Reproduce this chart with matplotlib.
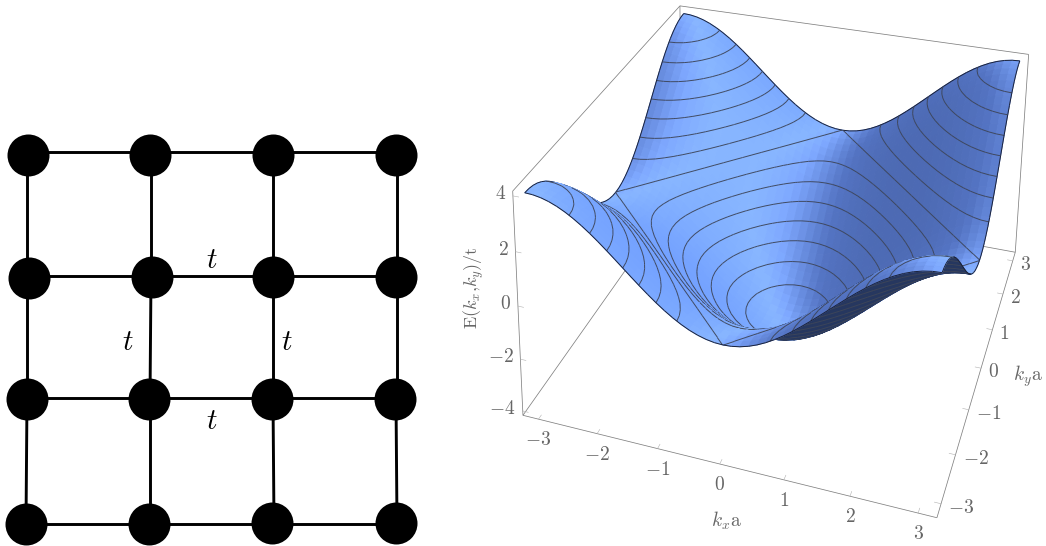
import numpy as np
import matplotlib
matplotlib.use("Agg")
import matplotlib.pyplot as plt
from mpl_toolkits.mplot3d.art3d import Poly3DCollection
from contourpy import contour_generator

plt.rcParams['mathtext.fontset'] = 'cm'
plt.rcParams['font.family'] = ['DejaVu Serif']

# ---------- data ----------
node_x = [[28, 150, 273, 396], [29, 152, 273, 396], [27, 149, 272, 395], [26, 149, 272, 396]]
node_y = [[155, 155, 155, 155], [278, 277, 277, 277], [399, 399, 399, 399], [524, 524, 523, 523]]
row_line_y = [152, 276, 398, 524]
col_line_top = [[27, 151, 273, 397], [27, 151, 273, 397], [27, 150, 273, 396]]
col_line_bot = [[27, 151, 273, 397], [27, 150, 273, 397], [26, 150, 274, 397]]
bond_labels = ['$t$', '$t$', '$t$', '$t$']
bond_label_x = [212, 128, 287, 212]
bond_label_y = [260, 342, 342, 421]

# band profile E(k)/t read along the box edges, one value per k knot
k_knots = [-3.142, -3.011, -2.880, -2.749, -2.618, -2.487, -2.356, -2.225, -2.094, -1.963,
           -1.833, -1.702, -1.571, -1.440, -1.309, -1.178, -1.047, -0.916, -0.785, -0.654,
           -0.524, -0.393, -0.262, -0.131, 0.0, 0.131, 0.262, 0.393, 0.524, 0.654, 0.785,
           0.916, 1.047, 1.178, 1.309, 1.440, 1.571, 1.702, 1.833, 1.963, 2.094, 2.225,
           2.356, 2.487, 2.618, 2.749, 2.880, 3.011, 3.142]
band_values = [2.000, 1.983, 1.932, 1.848, 1.732, 1.587, 1.414, 1.218, 1.000, 0.765, 0.518,
               0.261, 0.0, -0.261, -0.518, -0.765, -1.000, -1.218, -1.414, -1.587, -1.732,
               -1.848, -1.932, -1.983, -2.000, -1.983, -1.932, -1.848, -1.732, -1.587, -1.414,
               -1.218, -1.000, -0.765, -0.518, -0.261, 0.0, 0.261, 0.518, 0.765, 1.000, 1.218,
               1.414, 1.587, 1.732, 1.848, 1.932, 1.983, 2.000]
contour_levels = [-3.5, -3, -2.5, -2, -1.5, -1, -0.5, 0.001, 0.5, 1, 1.5, 2, 2.5, 3, 3.5]
k_ticks = [-3, -2, -1, 0, 1, 2, 3]
e_ticks = [-4, -2, 0, 2, 4]
x_label = r'$k_x\mathrm{a}$'
y_label = r'$k_y\mathrm{a}$'
z_label = r'$\mathrm{E}(k_x{,}k_y)/\mathrm{t}$'

# ---------- figure ----------
W, H = 1046, 546
fig = plt.figure(figsize=(W / 100, H / 100), dpi=100, facecolor='white')

lat = fig.add_axes([0, 0, 1, 1], zorder=3)
lat.set_xlim(0, W)
lat.set_ylim(H, 0)
lat.axis('off')
lat.patch.set_alpha(0)

nx_ = np.array(node_x, float)
ny_ = np.array(node_y, float)
for r in range(4):
    lat.plot([nx_[r, 0], nx_[r, 3]], [row_line_y[r]] * 2, color='k', lw=2.1, solid_capstyle='butt')
for r in range(3):
    for c in range(4):
        lat.plot([col_line_top[r][c], col_line_bot[r][c]], [ny_[r, c], ny_[r + 1, c]],
                 color='k', lw=2.1, solid_capstyle='butt')
lat.scatter(nx_.ravel(), ny_.ravel(), s=(42 * 0.72) ** 2, color='k', linewidths=0, zorder=4)
for s, x, y in zip(bond_labels, bond_label_x, bond_label_y):
    lat.text(x, y, s, fontsize=21, color='k', ha='center', va='center')

txtc = '#666666'
lat.text(726, 521, x_label, fontsize=14, color=txtc, ha='center', va='center')
lat.text(1028, 376, y_label, fontsize=14, color=txtc, ha='center', va='center')
lat.text(474, 288, z_label, fontsize=13, color=txtc, ha='center', va='center', rotation=90)

# ---------- 3D box calibration ----------
Ex, Ey, Ez = 3.27, 3.27, 4.17
corner3 = np.array([[-Ex, -Ey, -Ez], [Ex, -Ey, -Ez], [Ex, Ey, -Ez], [-Ex, Ey, -Ez],
                    [-Ex, -Ey, Ez], [Ex, Ey, Ez], [-Ex, Ey, Ez]])
corner_px = np.array([[525, 412.7], [936.7, 520], [1016.7, 248.3], [678.6, 195],
                      [510.7, 191.7], [1027.3, 56.7], [682.7, 3.3]])
corner_px[:, 1] = H - corner_px[:, 1]
A = []
for (X, Y, Z), (u, v) in zip(corner3, corner_px):
    A.append([X, Y, Z, 1, 0, 0, 0, 0, -u * X, -u * Y, -u * Z, -u])
    A.append([0, 0, 0, 0, X, Y, Z, 1, -v * X, -v * Y, -v * Z, -v])
P = np.linalg.svd(np.array(A))[2][-1].reshape(3, 4)
if (P[2] @ np.array([0, 0, 0, 1.0])) < 0:
    P = -P
P = P / P[2, 3]
M = np.vstack([P[0], P[1], [0, 0, 0, -1.0], P[2]])
camera = -np.linalg.solve(P[:, :3], P[:, 3])

ax = fig.add_axes([500 / W, 0, 546 / W, 1], projection='3d', computed_zorder=False, zorder=2)
ax.set_axis_off()
ax.patch.set_alpha(0)
ax.viewLim.intervalx = (500, W)
ax.viewLim.intervaly = (0, H)
ax.get_proj = lambda: M

def to_px(p):
    q = np.c_[p, np.ones(len(p))] @ P.T
    return q[:, :2] / q[:, 2:]

def segs3d(segs, color, lw, zorder):
    polys_ = [np.array(s, float) for s in segs]
    c = Poly3DCollection(polys_, facecolors=(0, 0, 0, 0), edgecolors=color, linewidths=lw, zorder=zorder)
    ax.add_collection3d(c, autolim=False)

# box edges
segs3d([((-Ex, -Ey, -Ez), (Ex, -Ey, -Ez)), ((Ex, -Ey, -Ez), (Ex, Ey, -Ez)),
        ((-Ex, -Ey, -Ez), (-Ex, Ey, -Ez)), ((-Ex, Ey, -Ez), (Ex, Ey, -Ez)),
        ((-Ex, -Ey, -Ez), (-Ex, -Ey, Ez)), ((Ex, Ey, -Ez), (Ex, Ey, Ez)),
        ((-Ex, Ey, Ez), (Ex, Ey, Ez)), ((-Ex, -Ey, Ez), (-Ex, Ey, Ez)),
        ((-Ex, Ey, -Ez), (-Ex, Ey, Ez))], '#808080', 0.55, 1)

# ticks and tick labels
def tick_label(p, s, ha, dx, dy):
    u, v = to_px(np.array([p], float))[0]
    lat.text(u + dx, H - v - dy, s, fontsize=14, color=txtc, ha=ha, va='center')
tick_segs = []
for v in k_ticks:
    tick_segs.append(((v, -Ey, -Ez), (v, -Ey + 0.1, -Ez)))
    tick_label((v, -Ey, -Ez), f'${v}$', 'center', 0, -21)
    tick_segs.append(((Ex - 0.1, v, -Ez), (Ex, v, -Ez)))
    tick_label((Ex, v, -Ez), f'${v}$', 'left', 7, -4)
for v in e_ticks:
    tick_segs.append(((-Ex, -Ey, v), (-Ex + 0.1, -Ey, v)))
    tick_label((-Ex, -Ey, v), f'${v}$', 'right', -7, 2)
segs3d(tick_segs, '#b0b0b0', 0.4, 1)

# ---------- surface ----------
kk = np.array(k_knots)
bb = np.array(band_values)
KX, KY = np.meshgrid(kk, kk, indexing='xy')
ZZ = bb[None, :] + bb[:, None]
GX = np.gradient(ZZ, kk, axis=1)
GY = np.gradient(ZZ, kk, axis=0)
z_scale = 0.5
norm = np.sqrt(1 + (z_scale * GX) ** 2 + (z_scale * GY) ** 2)
NX = -z_scale * GX / norm
NY = -z_scale * GY / norm

stops_t = [-0.95, -0.6, -0.05, 0.2, 0.9]
stops_r = [76, 84, 126, 136, 116]
stops_g = [105, 116, 168, 182, 162]
stops_b = [178, 195, 255, 255, 255]

polys, faces, edges = [], [], []
for j in range(len(kk) - 1):
    for i in range(len(kk) - 1):
        v = np.array([[KX[j, i], KY[j, i], ZZ[j, i]],
                      [KX[j, i + 1], KY[j, i + 1], ZZ[j, i + 1]],
                      [KX[j + 1, i + 1], KY[j + 1, i + 1], ZZ[j + 1, i + 1]],
                      [KX[j + 1, i], KY[j + 1, i], ZZ[j + 1, i]]])
        p2 = to_px(v)
        area = np.cross(p2[2] - p2[0], p2[3] - p2[1])
        if area < 0:
            col = (38 / 255, 55 / 255, 95 / 255, 1)
        else:
            t = np.mean(NX[j:j + 2, i:i + 2]) + 0.6 * np.mean(NY[j:j + 2, i:i + 2])
            col = (np.interp(t, stops_t, stops_r) / 255,
                   np.interp(t, stops_t, stops_g) / 255,
                   np.interp(t, stops_t, stops_b) / 255, 1)
        polys.append(v)
        faces.append(col)
        edges.append(col)

line_col = (0.24, 0.27, 0.35, 0.95)
def add_line(pts, col=line_col):
    pts = np.asarray(pts)
    ray = camera - pts
    ray /= np.linalg.norm(ray, axis=1, keepdims=True)
    pts = pts + 0.3 * ray
    for a, b in zip(pts[:-1], pts[1:]):
        polys.append(np.array([a, b]))
        faces.append((0, 0, 0, 0))
        edges.append(col)

gen = contour_generator(x=KX, y=KY, z=ZZ)
for lev in contour_levels:
    for ln in gen.lines(lev):
        add_line(np.c_[ln, np.full(len(ln), lev)])
# surface boundary
n = len(kk) - 1
border = (0.1, 0.13, 0.22, 1)
add_line(np.c_[KX[0, :], KY[0, :], ZZ[0, :]], border)
add_line(np.c_[KX[n, :], KY[n, :], ZZ[n, :]], border)
add_line(np.c_[KX[:, 0], KY[:, 0], ZZ[:, 0]], border)
add_line(np.c_[KX[:, n], KY[:, n], ZZ[:, n]], border)

coll = Poly3DCollection(polys, facecolors=faces, edgecolors=edges, linewidths=0.7, zorder=2)
ax.add_collection3d(coll, autolim=False)

fig.savefig('out.png', dpi=100, facecolor='white')
